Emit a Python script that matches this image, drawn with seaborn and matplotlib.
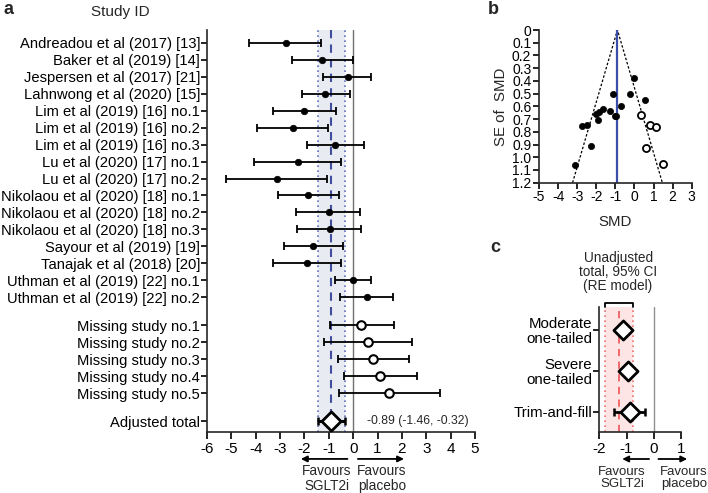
import numpy as np
import pandas as pd
import matplotlib
matplotlib.use("Agg")
import matplotlib.pyplot as plt
import seaborn as sns

# ---- data ----
studies = ["Andreadou et al (2017) [13]", "Baker et al (2019) [14]", "Jespersen et al (2017) [21]",
           "Lahnwong et al (2020) [15]", "Lim et al (2019) [16] no.1", "Lim et al (2019) [16] no.2",
           "Lim et al (2019) [16] no.3", "Lu et al (2020) [17] no.1", "Lu et al (2020) [17] no.2",
           "Nikolaou et al (2020) [18] no.1", "Nikolaou et al (2020) [18] no.2",
           "Nikolaou et al (2020) [18] no.3", "Sayour et al (2019) [19]", "Tanajak et al (2018) [20]",
           "Uthman et al (2019) [22] no.1", "Uthman et al (2019) [22] no.2"]
study_smd = [-2.77, -1.27, -0.23, -1.14, -2.02, -2.48, -0.73, -2.28, -3.14,
             -1.84, -1.00, -0.97, -1.63, -1.89, -0.01, 0.55]
study_lo = [-4.27, -2.50, -1.23, -2.11, -3.30, -3.94, -1.91, -4.06, -5.23,
            -3.10, -2.35, -2.32, -2.85, -3.28, -0.75, -0.53]
study_hi = [-1.31, -0.01, 0.73, -0.15, -0.72, -1.02, 0.44, -0.48, -1.06,
            -0.58, 0.30, 0.33, -0.41, -0.52, 0.74, 1.62]

missing = ["Missing study no.1", "Missing study no.2", "Missing study no.3",
           "Missing study no.4", "Missing study no.5"]
missing_smd = [0.33, 0.60, 0.81, 1.11, 1.48]
missing_lo = [-0.95, -1.19, -0.62, -0.36, -0.59]
missing_hi = [1.66, 2.43, 2.30, 2.62, 3.55]

adjusted = (-0.89, -1.46, -0.32)
unadjusted = (-1.28, -1.79, -0.77)

sens_labels = ["Moderate\none-tailed", "Severe\none-tailed", "Trim-and-fill"]
sens_smd = [-1.12, -0.93, -0.89]
sens_lo = [np.nan, np.nan, -1.46]
sens_hi = [np.nan, np.nan, -0.32]

# ---- style ----
sns.set_style("ticks")
plt.rcParams["font.family"] = ["Liberation Sans", "DejaVu Sans"]
plt.rcParams["axes.unicode_minus"] = False
plt.rcParams["axes.linewidth"] = 1.2
plt.rcParams["xtick.major.width"] = 1.2
plt.rcParams["ytick.major.width"] = 1.2
plt.rcParams["xtick.color"] = "black"
plt.rcParams["ytick.color"] = "black"

W, H = 708, 493
fig = plt.figure(figsize=(W / 100, H / 100), dpi=100)


def rect(x0, y0, x1, y1):
    return [x0 / W, 1 - y1 / H, (x1 - x0) / W, (y1 - y0) / H]


# row positions for panel a
gap = 1.66
pos_study = np.arange(len(studies))
pos_missing = pos_study[-1] + gap + np.arange(len(missing))
pos_adj = pos_missing[-1] + gap

df = pd.DataFrame({
    "label": studies + missing,
    "smd": study_smd + missing_smd,
    "lo": study_lo + missing_lo,
    "hi": study_hi + missing_hi,
    "pos": np.concatenate([pos_study, pos_missing]),
    "kind": ["observed"] * len(studies) + ["missing"] * len(missing),
})
df["se"] = (df["hi"] - df["lo"]) / 3.92

# ---------------- panel a ----------------
ax = fig.add_axes(rect(207, 30, 475, 432))
ax.axvspan(adjusted[1], adjusted[2], color="#e9ebf3", zorder=0, lw=0)
ax.axvline(adjusted[1], color="#6070c0", ls=(0, (1, 2)), lw=1.2, zorder=1)
ax.axvline(adjusted[2], color="#6070c0", ls=(0, (1, 2)), lw=1.2, zorder=1)
ax.axvline(adjusted[0], color="#3f4f9e", ls=(0, (4, 3)), lw=1.5, zorder=1)
ax.axvline(0, color="#707070", lw=1.0, zorder=1)

ax.errorbar(df["smd"], df["pos"], xerr=[df["smd"] - df["lo"], df["hi"] - df["smd"]],
            fmt="none", ecolor="black", elinewidth=1.3, capsize=3, capthick=1.3, zorder=2)
obs = df[df["kind"] == "observed"]
mis = df[df["kind"] == "missing"]
sns.scatterplot(x=obs["smd"], y=obs["pos"], ax=ax, color="black", s=22, edgecolor="black",
                linewidth=0.5, zorder=3)
sns.scatterplot(x=mis["smd"], y=mis["pos"], ax=ax, color="white", s=38, edgecolor="black",
                linewidth=1.5, zorder=3)
ax.errorbar([adjusted[0]], [pos_adj], xerr=[[adjusted[0] - adjusted[1]], [adjusted[2] - adjusted[0]]],
            fmt="none", ecolor="black", elinewidth=2.2, capsize=3, capthick=1.8, zorder=2)
ax.scatter([adjusted[0]], [pos_adj], marker="D", s=95, facecolor="white", edgecolor="black",
           linewidth=2.0, zorder=4)
ax.text(0.55, pos_adj, "%.2f (%.2f, %.2f)" % adjusted, fontsize=8.8, va="center", ha="left")

ax.set_yticks(list(df["pos"]) + [pos_adj])
ax.set_yticklabels(list(df["label"]) + ["Adjusted total"], fontsize=10.6)
ax.set_ylim(pos_adj + 0.63, -0.76)
ax.set_xlim(-6, 5)
ax.set_xticks(range(-6, 6))
ax.tick_params(axis="x", labelsize=11, length=5, pad=2)
ax.tick_params(axis="y", length=4, pad=1)
ax.set_xlabel("")
ax.set_ylabel("")
sns.despine(ax=ax)

tr = ax.get_xaxis_transform()
ax.annotate("", xy=(-2.26, -0.067), xytext=(-0.12, -0.067), xycoords=tr, textcoords=tr,
            arrowprops=dict(arrowstyle="-|>", color="black", lw=1.3, mutation_scale=9), annotation_clip=False)
ax.annotate("", xy=(2.2, -0.067), xytext=(0.08, -0.067), xycoords=tr, textcoords=tr,
            arrowprops=dict(arrowstyle="-|>", color="black", lw=1.3, mutation_scale=9), annotation_clip=False)
ax.text(-1.08, -0.116, "Favours\nSGLT2i", transform=tr, ha="center", va="center", fontsize=9.8,
        linespacing=1.1)
ax.text(1.18, -0.116, "Favours\nplacebo", transform=tr, ha="center", va="center", fontsize=9.8,
        linespacing=1.1)

fig.text(120 / W, 1 - 12 / H, "Study ID", ha="center", va="center", fontsize=11)
fig.text(4 / W, 1 - 10 / H, "a", ha="left", va="center", fontsize=13, fontweight="bold")

# ---------------- panel b (funnel) ----------------
bx = fig.add_axes(rect(539, 30, 691.7, 182.7))
se_max = 1.2
bx.plot([adjusted[0] - 1.96 * se_max, adjusted[0], adjusted[0] + 1.96 * se_max], [se_max, 0, se_max],
        color="black", ls=(0, (2, 1.5)), lw=0.9, zorder=1)
bx.plot([adjusted[0], adjusted[0]], [0, se_max], color="#3b4fa8", lw=1.6, zorder=1)
sns.scatterplot(data=obs, x="smd", y="se", ax=bx, color="black", s=20, edgecolor="black",
                linewidth=0.5, zorder=3)
sns.scatterplot(data=mis, x="smd", y="se", ax=bx, color="white", s=26, edgecolor="black",
                linewidth=1.3, zorder=3)
bx.set_xlim(-5, 3)
bx.set_ylim(se_max, 0)
bx.set_xticks(range(-5, 4))
yt = np.round(np.arange(0, 1.21, 0.1), 1)
bx.set_yticks(yt)
bx.set_yticklabels(["0"] + ["%.1f" % v for v in yt[1:]])
bx.tick_params(axis="both", labelsize=10, length=4, pad=1.5)
bx.set_xlabel("SMD", fontsize=10.8, labelpad=8)
bx.set_ylabel("SE of  SMD", fontsize=10.8, labelpad=3)
sns.despine(ax=bx)
fig.text(488 / W, 1 - 10 / H, "b", ha="left", va="center", fontsize=13, fontweight="bold")

# ---------------- panel c ----------------
cx = fig.add_axes(rect(599.3, 307, 681, 432))
cx.axvspan(unadjusted[1], unadjusted[2], color="#fde5e5", zorder=0, lw=0)
cx.axvline(unadjusted[1], color="#f07070", ls=(0, (1, 2)), lw=1.2, zorder=1)
cx.axvline(unadjusted[2], color="#f07070", ls=(0, (1, 2)), lw=1.2, zorder=1)
cx.axvline(unadjusted[0], color="#f06060", ls=(0, (4, 3)), lw=1.3, zorder=1)
cx.axvline(0, color="#909090", lw=1.0, zorder=1)
spos = np.arange(len(sens_labels))
cx.errorbar(sens_smd, spos, xerr=[np.array(sens_smd) - np.array(sens_lo), np.array(sens_hi) - np.array(sens_smd)],
            fmt="none", ecolor="black", elinewidth=2.0, capsize=3, capthick=1.8, zorder=2)
cx.scatter(sens_smd, spos, marker="D", s=95, facecolor="white", edgecolor="black", linewidth=2.0, zorder=4)
cx.set_xlim(-2, 1)
cx.set_xticks([-2, -1, 0, 1])
cx.set_ylim(2.49, -0.56)
cx.set_yticks(spos)
cx.set_yticklabels(sens_labels, fontsize=10.8, linespacing=1.05)
cx.tick_params(axis="x", labelsize=11, length=5, pad=2)
cx.tick_params(axis="y", length=4, pad=1)
sns.despine(ax=cx)

ctr = cx.get_xaxis_transform()
cx.plot([unadjusted[1], unadjusted[1], unadjusted[2], unadjusted[2]], [1.0, 1.035, 1.035, 1.0],
        transform=ctr, color="black", lw=1.3, clip_on=False)
cx.text(-1.31, 1.28, "Unadjusted\ntotal, 95% CI\n(RE model)", transform=ctr, ha="center",
        va="center", fontsize=9.8, linespacing=1.0)
cx.annotate("", xy=(-1.26, -0.216), xytext=(-0.07, -0.216), xycoords=ctr, textcoords=ctr,
            arrowprops=dict(arrowstyle="-|>", color="black", lw=1.3, mutation_scale=9), annotation_clip=False)
cx.annotate("", xy=(1.33, -0.216), xytext=(0.07, -0.216), xycoords=ctr, textcoords=ctr,
            arrowprops=dict(arrowstyle="-|>", color="black", lw=1.3, mutation_scale=9), annotation_clip=False)
cx.text(-1.17, -0.368, "Favours\nSGLT2i", transform=ctr, ha="center", va="center", fontsize=9.5,
        linespacing=1.1)
cx.text(1.1, -0.368, "Favours\nplacebo", transform=ctr, ha="center", va="center", fontsize=9.5,
        linespacing=1.1)
fig.text(490 / W, 1 - 248 / H, "c", ha="left", va="center", fontsize=13, fontweight="bold")

fig.savefig("out.png", dpi=100)
